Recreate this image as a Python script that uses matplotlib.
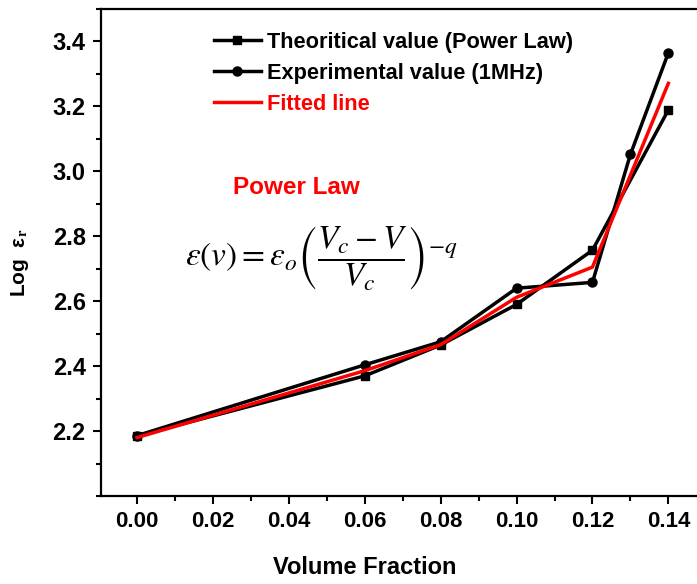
import matplotlib
matplotlib.use("Agg")
import matplotlib.pyplot as plt
from matplotlib.ticker import MultipleLocator, FormatStrFormatter

plt.rcParams['font.family'] = ['Liberation Sans', 'DejaVu Sans']
plt.rcParams['mathtext.fontset'] = 'stix'

x_theory = [0.00, 0.06, 0.08, 0.10, 0.12, 0.14]
y_theory = [2.185, 2.370, 2.465, 2.590, 2.757, 3.189]

x_exp = [0.00, 0.06, 0.08, 0.10, 0.12, 0.13, 0.14]
y_exp = [2.186, 2.404, 2.475, 2.640, 2.658, 3.052, 3.365]

x_fit = [0.00, 0.06, 0.08, 0.10, 0.12, 0.14]
y_fit = [2.180, 2.386, 2.466, 2.612, 2.705, 3.271]

labels = ['Theoritical value (Power Law)', 'Experimental value (1MHz)', 'Fitted line']

W, H = 697, 584
fig = plt.figure(figsize=(W/100, H/100), dpi=100)
left, bottom, top = 101, 496, 9
px_per_unit = 75.9 / 0.02
xmin, xmax = -0.0095, 0.15
width_px = (xmax - xmin) * px_per_unit
ax = fig.add_axes([left/W, (H-bottom)/H, width_px/W, (bottom-top)/H])

ax.plot(x_theory, y_theory, color='black', lw=2.5, marker='s', ms=6, label=labels[0])
ax.plot(x_exp, y_exp, color='black', lw=2.5, marker='o', ms=6.5, label=labels[1])
ax.plot(x_fit, y_fit, color='red', lw=2.5, label=labels[2])

ax.set_xlim(xmin, xmax)
ax.set_ylim(2.0, 3.5)
ax.xaxis.set_minor_locator(MultipleLocator(0.01))
ax.yaxis.set_minor_locator(MultipleLocator(0.1))
ax.set_xticks([0.00, 0.02, 0.04, 0.06, 0.08, 0.10, 0.12, 0.14])
ax.set_yticks([2.2, 2.4, 2.6, 2.8, 3.0, 3.2, 3.4])
ax.xaxis.set_major_formatter(FormatStrFormatter('%.2f'))
ax.yaxis.set_major_formatter(FormatStrFormatter('%.1f'))

for s in ax.spines.values():
    s.set_linewidth(1.6)
ax.tick_params(which='major', direction='out', length=6, width=1.5, labelsize=16, pad=5)
ax.tick_params(which='major', axis='y', labelsize=17)
ax.tick_params(which='minor', direction='out', length=3.5, width=1.5)
for t in ax.get_xticklabels() + ax.get_yticklabels():
    t.set_fontweight('bold')

fig.text(365/W, 1 - 568/H, 'Volume Fraction', ha='center', va='center',
         fontsize=17, fontweight='bold')
fig.text(20/W, 1 - 263/H, r'Log  ε$_{\mathbf{r}}$', ha='center', va='center',
         rotation=90, fontsize=15, fontweight='bold')

leg = ax.legend(loc='upper left', bbox_to_anchor=(203/W, 1 - 21/H), bbox_transform=fig.transFigure,
                frameon=False, prop={'weight': 'bold', 'size': 15.7}, handlelength=2.15,
                handletextpad=0.3, labelspacing=0.45, borderpad=0)
for txt in leg.get_texts():
    if txt.get_text() == 'Fitted line':
        txt.set_color('red')

fig.text(296/W, 1 - 188/H, 'Power Law', ha='center', va='center', color='red',
         fontsize=17.5, fontweight='bold')
fig.text(185/W, 1 - 258/H,
         r'$\varepsilon\left(v\right)=\varepsilon_o\left(\dfrac{V_c-V}{V_c}\right)^{-q}$',
         ha='left', va='center', fontsize=24)

fig.savefig('out.png', dpi=100)
